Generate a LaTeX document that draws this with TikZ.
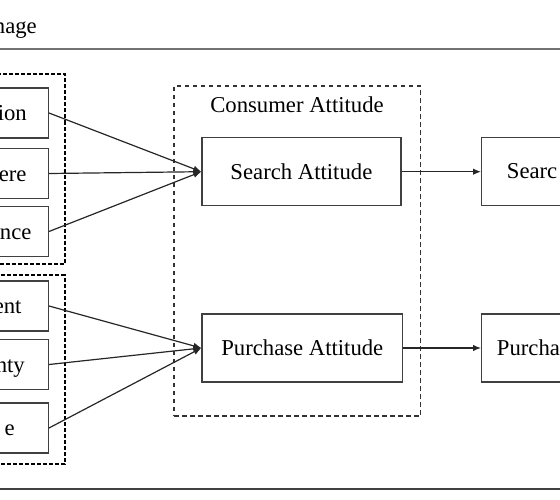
\documentclass[tikz,border=0pt]{standalone}
\usepackage{fontspec}
\setmainfont{Liberation Serif}
\usepackage{tikz}
\usetikzlibrary{arrows.meta, positioning}
\tikzset{factor/.style={rectangle,draw=black!75,line width=1.2pt,minimum width=110pt,minimum height=50pt,anchor=east},
         attbox/.style={rectangle,draw=black!75,line width=1.2pt,minimum width=199pt,minimum height=68pt},
         outcome/.style={rectangle,draw=black!75,line width=1.2pt,minimum width=120pt,minimum height=68pt,anchor=west},
         group/.style={draw=black,line width=2pt,dash pattern=on 4pt off 2pt},
         boundary/.style={rectangle,draw=black!80,line width=1.1pt,dash pattern=on 4.5pt off 3.5pt,minimum width=246.7pt,minimum height=330pt},
         cut/.style={inner sep=0pt},
         rule/.style={line width=1.8pt},
         arrow/.style={-{Latex[length=8pt,width=6.5pt]},line width=1.2pt,draw=black!85}}
\begin{document}
\begin{tikzpicture}[x=1pt,y=-1pt,font=\fontsize{22.7}{27}\selectfont]
    \useasboundingbox (0,0) rectangle (560,500);
    \clip (0,0) rectangle (560,500);
    % Heading and rules
    \node (title) at (37,33.3) [cut,anchor=base east]{nage};
    \draw[rule,black!55] (0,49.3) -- (560,49.3);
    \draw[rule,black!75] (0,489) -- (560,489);
    % Factor groups
    \draw[group] (-80,74) rectangle (64.5,264);
    \draw[group] (-80,275) rectangle (64.5,464);
    \node (sf1) at (49,113) [factor]{};
    \node (sf2) at (49,173.5) [factor]{};
    \node (sf3) at (49,231.5) [factor]{};
    \node (pf1) at (49,306) [factor]{};
    \node (pf2) at (49,364.5) [factor]{};
    \node (pf3) at (49,428) [factor]{};
    \node (sf1txt) at (27,121) [cut,anchor=base east]{ion};
    \node (sf2txt) at (26.7,181.3) [cut,anchor=base east]{ere};
    \node (sf3txt) at (31.7,239.2) [cut,anchor=base east]{nce};
    \node (pf1txt) at (21.7,313.7) [cut,anchor=base east]{ent};
    \node (pf2txt) at (25,372.2) [cut,anchor=base east]{nty};
    \node (pf3txt) at (15,435.7) [cut,anchor=base east]{e};
    % Consumer attitude
    \node (attitude) at (297.35,251) [boundary]{};
    \node (attlabel) at (297,113) [cut,anchor=base]{Consumer Attitude};
    \node (search) at (301.4,171.7) [attbox]{Search Attitude};
    \node (purchase) at (302.3,348) [attbox,minimum width=200.7pt]{Purchase Attitude};
    % Outcomes
    \node (searchout) at (481,171.2) [outcome]{};
    \node (purchaseout) at (481,348) [outcome]{};
    \node (searchtxt) at (506.7,178.6) [cut,anchor=base west]{Searc};
    \node (purchasetxt) at (496.7,355.7) [cut,anchor=base west]{Purcha};
    % Links
    \foreach \f in {sf1,sf2,sf3}
      \draw[arrow] (\f.east) -- (search.west);
    \foreach \f in {pf1,pf2,pf3}
      \draw[arrow] (\f.east) -- (purchase.west);
    \draw[arrow] (search.east) -- (searchout.west |- search.east);
    \draw[arrow] (purchase.east) -- (purchaseout.west |- purchase.east);
  \end{tikzpicture}
\end{document}
